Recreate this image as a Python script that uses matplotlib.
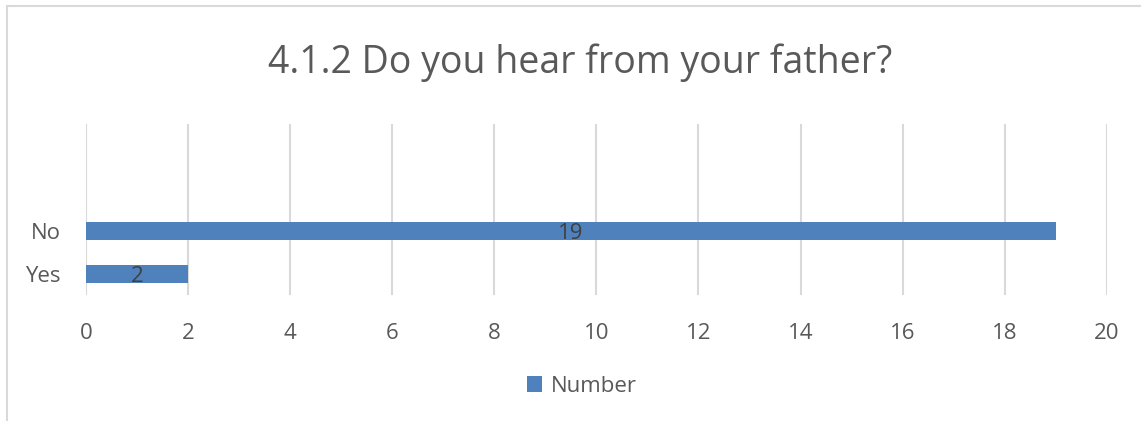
import matplotlib
matplotlib.use("Agg")
from matplotlib import pyplot as plt
from matplotlib.patches import Rectangle

plt.rcParams['font.family'] = ['Open Sans', 'DejaVu Sans']

categories = ["Yes", "No"]
values = [2, 19]
series_name = "Number"
title = "4.1.2 Do you hear from your father?"
xticks = list(range(0, 21, 2))

bar_color = "#4F81BD"
text_color = "#595959"
grid_color = "#D9D9D9"

fig = plt.figure(figsize=(11.41, 4.21), dpi=100)
ax = fig.add_axes([0.0754, 0.299, 0.8946, 0.4065])

ypos = list(range(len(categories)))
bars = ax.barh(ypos, values, height=0.4, color=bar_color, label=series_name, zorder=3)
for y, v in zip(ypos, values):
    ax.text(v / 2, y - 0.05, str(v), ha="center", va="center",
            fontsize=16, color="#404040", zorder=4)

ax.set_xlim(0, 20)
ax.set_ylim(-0.49, 3.49)
ax.set_xticks(xticks)
ax.set_yticks(ypos)
ax.set_yticklabels(categories)
ax.tick_params(axis="both", length=0, labelsize=16, colors=text_color)
ax.tick_params(axis="x", pad=20)
ax.tick_params(axis="y", pad=18)
ax.grid(axis="x", color=grid_color, linewidth=1.5, zorder=0)
for s in ax.spines.values():
    s.set_visible(False)

fig.text(0.508, 0.85, title, ha="center", va="center", fontsize=27, color=text_color)

fig.legend(handles=[bars], labels=[series_name], loc="center", bbox_to_anchor=(0.51, 0.083),
           frameon=False, fontsize=16, labelcolor=text_color, handlelength=0.7,
           handleheight=0.7, handletextpad=0.4)

# outer chart border
fig.patches.append(Rectangle((0.006, -0.05), 1.1, 1.036, transform=fig.transFigure,
                             fill=False, edgecolor=grid_color, linewidth=1.5))

fig.savefig("out.png", dpi=100)
